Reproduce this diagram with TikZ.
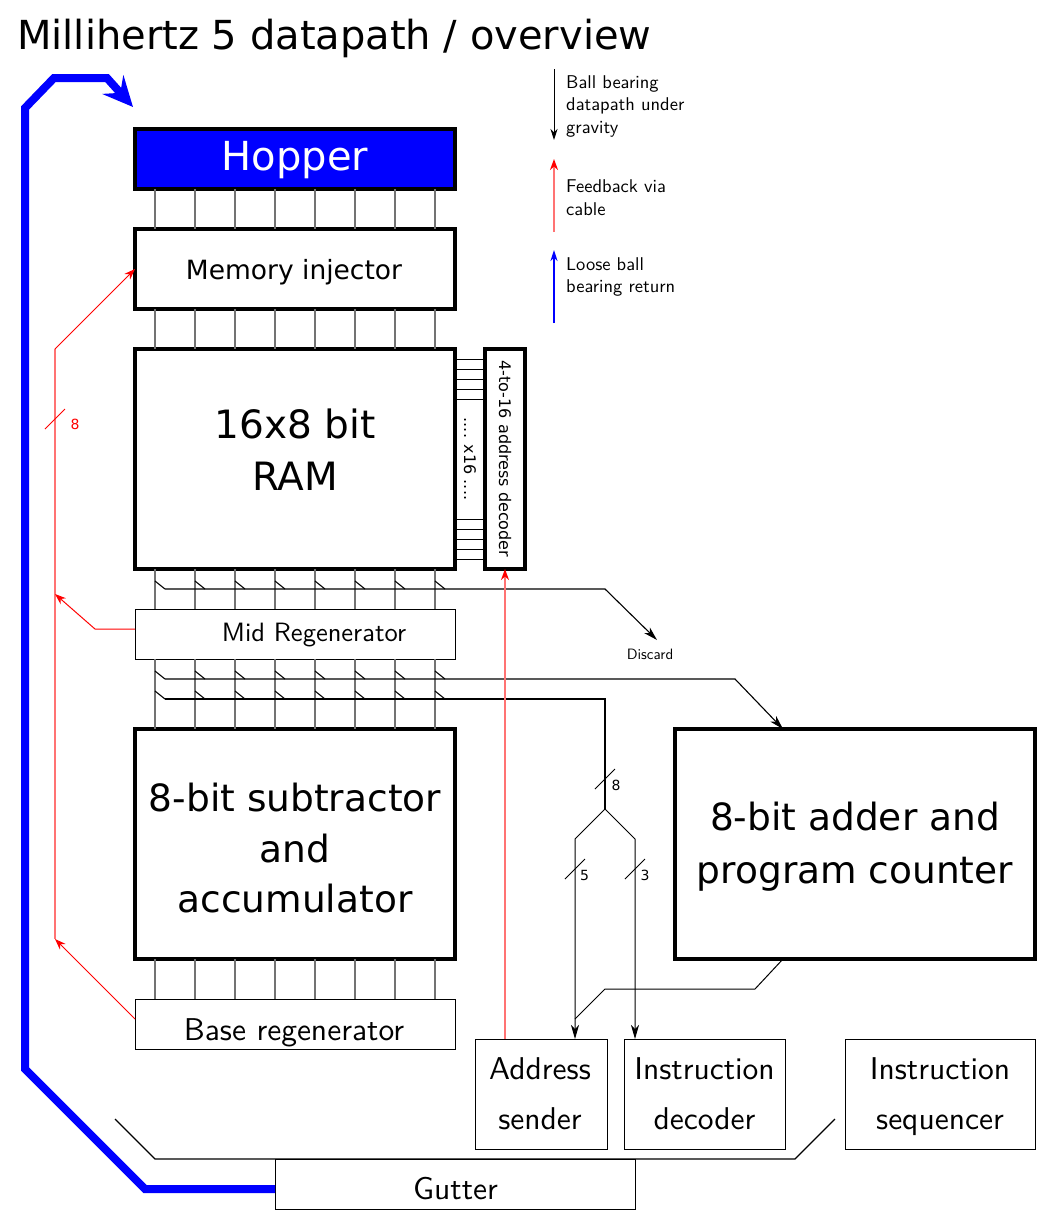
\documentclass[tikz,border=0pt]{standalone}
\usepackage{fontspec}
\usepackage{graphicx}
\usetikzlibrary{arrows.meta,calc}
\newfontfamily\dvs{DejaVu Sans}
\newcommand\lms[3]{\scalebox{#1}{\fontsize{10}{#2}\sffamily\selectfont #3}}
\begin{document}
\begin{tikzpicture}[x=1pt,y=-1pt,
  thickbox/.style={draw=black, line width=4pt, rectangle, inner sep=0pt, outer sep=0pt},
  thinbox/.style={draw=black, line width=1pt, rectangle, inner sep=0pt, outer sep=0pt},
  txt/.style={anchor=base, inner sep=0pt},
  bus/.style={draw=black!55, line width=1.5pt},
  tap/.style={draw=black, line width=1.1pt},
  sig/.style={draw=black, line width=1pt},
  blkarrow/.style={-{Stealth[length=14pt,width=8pt,inset=4pt]}},
  redline/.style={draw=red, line width=1pt},
  pinkline/.style={draw=red!55, line width=1.6pt},
  redarrow/.style={-{Stealth[length=11pt,width=8pt,inset=3.5pt,color=red]}},
  blueret/.style={draw=blue, line width=8pt, -{Stealth[length=30pt,width=28pt,inset=11pt]}},
  bigfont/.style={font=\dvs\fontsize{37.5}{50.5}\selectfont},
  smalltxt/.style={inner sep=0pt, font=\dvs\fontsize{14}{16}\selectfont}
]
\useasboundingbox (0,0) rectangle (1056,1229);

% title
\node[anchor=base west, inner sep=0pt, font=\dvs\fontsize{40}{48}\selectfont] (title) at (17,49.5) {Millihertz 5 datapath / overview};

% main boxes
\node[thickbox, fill=blue, minimum width=320pt, minimum height=60pt] (hopper) at (295,159) {};
\node[txt, text=white, font=\dvs\fontsize{40}{48}\selectfont] (hoppertxt) at (295,170) {Hopper};

\node[thickbox, minimum width=320pt, minimum height=80pt] (meminj) at (295,269) {};
\node[txt, font=\dvs\fontsize{26.5}{32}\selectfont] (meminjtxt) at (294,279.3) {Memory injector};

\node[thickbox, minimum width=320pt, minimum height=220pt] (ram) at (295,459) {};
\node[txt, font=\dvs\fontsize{39}{51.7}\selectfont] (ramtxt) at (295,438.3)
  {\begin{tabular}[t]{@{}c@{}}16x8 bit\\RAM\end{tabular}};

\node[thickbox, minimum width=40pt, minimum height=220pt] (dec) at (505,459)
      {\rotatebox{-90}{\dvs\fontsize{16}{19}\selectfont 4-to-16 address decoder}};

\node[thinbox, minimum width=320pt, minimum height=50pt] (midreg) at (295,634) {};
\node[txt] (midregtxt) at (314,641.7) {\lms{2.65}{12}{Mid Regenerator}};

\node[thickbox, minimum width=320pt, minimum height=230pt] (sub) at (295,844) {};
\node[txt, bigfont] (subtxt) at (295,811.7)
  {\begin{tabular}[t]{@{}c@{}}8-bit subtractor\\and\\accumulator\end{tabular}};

\node[thinbox, minimum width=320pt, minimum height=50pt] (basereg) at (295,1024) {};
\node[txt] (baseregtxt) at (294,1040) {\lms{3.15}{12}{Base regenerator}};

\node[thickbox, minimum width=360pt, minimum height=230pt] (adder) at (855,844) {};
\node[txt, font=\dvs\fontsize{37.5}{52.5}\selectfont] (addertxt) at (855,830.6)
  {\begin{tabular}[t]{@{}c@{}}8-bit adder and\\program counter\end{tabular}};

\node[thinbox, minimum width=132pt, minimum height=110pt] (addr) at (541,1094) {};
\node[txt] (addrtxt) at (540,1079.3)
  {\lms{3.15}{15.87}{\begin{tabular}[t]{@{}c@{}}Address\\sender\end{tabular}}};
\node[thinbox, minimum width=161pt, minimum height=110pt] (idec) at (704.5,1094) {};
\node[txt] (idectxt) at (704.5,1079.3)
  {\lms{3.15}{15.87}{\begin{tabular}[t]{@{}c@{}}Instruction\\decoder\end{tabular}}};
\node[thinbox, minimum width=190pt, minimum height=110pt] (iseq) at (940,1094) {};
\node[txt] (iseqtxt) at (940,1079.3)
  {\lms{3.15}{15.87}{\begin{tabular}[t]{@{}c@{}}Instruction\\sequencer\end{tabular}}};
\node[thinbox, minimum width=360pt, minimum height=50pt] (gutter) at (455,1184) {};
\node[txt] (guttertxt) at (455.5,1199.3) {\lms{3.15}{12}{Gutter}};

% x16 label
\node[inner sep=0pt] (x16) at (470,459) {\rotatebox{-90}{\dvs\fontsize{16}{19}\selectfont .... x16 ....}};
% discard
\node[txt] (discard) at (650,659.5) {\lms{1.5}{12}{Discard}};
\coordinate (discardtip) at (657,640);

% bus lines
\foreach \x in {155,195,...,435} {
  \draw[bus] (\x,0 |- hopper.south) -- (\x,0 |- meminj.north);
  \draw[bus] (\x,0 |- meminj.south) -- (\x,0 |- ram.north);
  \draw[bus] (\x,0 |- ram.south) -- (\x,0 |- midreg.north);
  \draw[bus] (\x,0 |- midreg.south) -- (\x,0 |- sub.north);
  \draw[bus] (\x,0 |- sub.south) -- (\x,0 |- basereg.north);
  \draw[tap] (\x,581) -- (\x+10,589);
  \draw[tap] (\x,671) -- (\x+10,679);
  \draw[tap] (\x,691) -- (\x+10,699);
}

% decoder word lines
\foreach \y in {359,369,...,399,519,529,...,559}
  \draw[sig] (ram.east |- 0,\y) -- (dec.west |- 0,\y);

% tap outputs
\draw[tap, blkarrow] (165,589) -- (605,589) -- (discardtip);
\draw[tap, blkarrow] (165,679) -- (735,679) -- (783,0 |- adder.north);
\coordinate (split) at (605,809);
\draw[tap] (165,699) -- (605,699) -- (split);
\draw[sig, blkarrow] (split) -- (575,839) -- (575,0 |- addr.north);
\draw[sig, blkarrow] (split) -- (635,839) -- (635,0 |- idec.north);
\draw[sig] (783,0 |- adder.south) -- (755,989) -- (605,989) -- (575,1019);

% bus width marks
\draw[sig] (595,789) -- (615,769);
\node[smalltxt] (w8) at (616,785) {8};
\draw[sig] (565,879) -- (585,859);
\node[smalltxt] (w5) at (584.5,875) {5};
\draw[sig] (625,879) -- (645,859);
\node[smalltxt] (w3) at (645,875) {3};

% red feedback
\coordinate (fbA) at (55,939);
\coordinate (fbB) at (55,594);
\coordinate (fbTop) at (55,349);
\draw[pinkline] (fbA) -- (fbTop);
\draw[redline, redarrow] (fbTop) -- (meminj.west);
\draw[redline, redarrow] ($(basereg.north west)+(0,20)$) -- (fbA);
\draw[redline, redarrow] ($(midreg.north west)+(0,20)$) -- (95,629) -- (fbB);
\draw[redline] (45,429) -- (65,409);
\node[smalltxt, text=red] (r8) at (75,424) {8};
\draw[pinkline, redarrow] (505,0 |- addr.north) -- (505,0 |- dec.south);

% gutter channel
\draw[tap] (115,1119) -- (155,1159) -- (795,1159) -- (835,1119);

% blue return
\draw[blueret] ($(gutter.south west)+(0,-20)$) -- (145,1189) -- (25,1069) -- (25,108) -- (54,78) -- (107,78) -- (133,107);

% legend
\draw[sig, -{Stealth[length=11pt,width=7pt,inset=3.5pt]}] (554,69) -- (554,140);
\node[anchor=base west, inner sep=0pt] (leg1) at (566,88)
  {\lms{1.85}{12.3}{\begin{tabular}[t]{@{}l@{}}Ball bearing\\datapath under\\gravity\end{tabular}}};
\draw[pinkline, redarrow] (554,232) -- (554,159);
\node[anchor=base west, inner sep=0pt] (leg2) at (566,192.7)
  {\lms{1.85}{12.3}{\begin{tabular}[t]{@{}l@{}}Feedback via\\cable\end{tabular}}};
\draw[draw=blue, line width=2pt, -{Stealth[length=11pt,width=7pt,inset=3.5pt]}] (554,323) -- (554,250);
\node[anchor=base west, inner sep=0pt] (leg3) at (566,270)
  {\lms{1.85}{12.3}{\begin{tabular}[t]{@{}l@{}}Loose ball\\bearing return\end{tabular}}};
\end{tikzpicture}
\end{document}
